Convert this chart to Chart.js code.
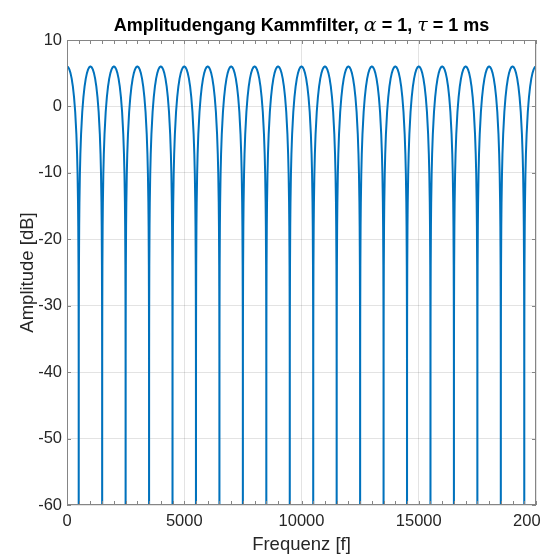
<!DOCTYPE html>
<html>
<head>
<meta charset="utf-8">
<script src="https://cdn.jsdelivr.net/npm/chart.js@4"></script>
<style>
  html, body { margin: 0; padding: 0; background: #fff; overflow: hidden; }
  #wrap { width: 544px; height: 556px; }
</style>
</head>
<body>
<div id="wrap"><canvas id="graphCanvas" width="544" height="556"></canvas></div>
<script>
// peaks of the comb filter response (Hz)
const peakFreqs = [0, 1000, 2000, 3000, 4000, 5000, 6000, 7000, 8000, 9000, 10000,
    11000, 12000, 13000, 14000, 15000, 16000, 17000, 18000, 19000, 20000];
// shape of one lobe around a peak
const lobeOffsetHz = [-500, -498, -495, -490, -480, -470, -450, -430, -400, -350, -300, -250, -200, -150, -100, -50,
    0, 50, 100, 150, 200, 250, 300, 350, 400, 430, 450, 470, 480, 490, 495, 498, 500];
const lobeDb = [-90, -38, -30.1, -24, -18, -14.5, -10.1, -7.2, -4.18, -0.84, 1.41, 3.01, 4.18, 5.02, 5.58, 5.91,
    6.02, 5.91, 5.58, 5.02, 4.18, 3.01, 1.41, -0.84, -4.18, -7.2, -10.1, -14.5, -18, -24, -30.1, -38, -90];
const xTicks = [0, 5000, 10000, 15000, 20000];
const yTicks = [10, 0, -10, -20, -30, -40, -50, -60];

const points = [];
peakFreqs.forEach(p => {
    lobeOffsetHz.forEach((o, i) => {
        const f = p + o;
        if (f < 0 || f > 20000) return;
        if (points.length && points[points.length - 1].x === f) return;
        points.push({ x: f, y: lobeDb[i] });
    });
});

const textColor = '#262626';
const boxColor = '#858585';
const gridColor = 'rgba(38,38,38,0.13)';
const sans = '"Liberation Sans", Arial, sans-serif';

const frame = {
    id: 'frame',
    afterDraw(chart) {
        const { ctx, chartArea: a, scales } = chart;
        ctx.save();
        // the figure is cut off on the right, through the last tick label
        ctx.fillStyle = '#fff';
        ctx.fillRect(541, a.bottom + 2, 10, 40);

        ctx.strokeStyle = boxColor;
        ctx.lineWidth = 1;
        ctx.strokeRect(a.left + 0.5, a.top + 0.5, a.right - a.left - 1, a.bottom - a.top - 1);
        // inner ticks
        ctx.beginPath();
        for (let f = 0; f <= 20000; f += 500) {
            const x = Math.round(scales.x.getPixelForValue(f)) + 0.5;
            ctx.moveTo(x, a.bottom); ctx.lineTo(x, a.bottom - 4);
            ctx.moveTo(x, a.top); ctx.lineTo(x, a.top + 4);
        }
        yTicks.forEach(v => {
            const y = Math.round(scales.y.getPixelForValue(v)) + 0.5;
            ctx.moveTo(a.left, y); ctx.lineTo(a.left + 4, y);
            ctx.moveTo(a.right, y); ctx.lineTo(a.right - 4, y);
        });
        ctx.stroke();

        // title with greek symbols
        const segs = [
            ['Amplitudengang Kammfilter, ', 'bold 18px ' + sans],
            ['\u03b1', 'italic 19px "DejaVu Serif", "Liberation Serif", serif'],
            [' = 1, ', 'bold 18px ' + sans],
            ['\u03c4', 'italic 19px "DejaVu Serif", "Liberation Serif", serif'],
            [' = 1 ms', 'bold 18px ' + sans]
        ];
        let total = 0;
        segs.forEach(s => { ctx.font = s[1]; total += ctx.measureText(s[0]).width; });
        let x = (a.left + a.right) / 2 - total / 2;
        ctx.fillStyle = '#000';
        ctx.textBaseline = 'alphabetic';
        segs.forEach(s => {
            ctx.font = s[1];
            ctx.fillText(s[0], x, 31);
            x += ctx.measureText(s[0]).width;
        });
        ctx.restore();
    }
};

new Chart(document.getElementById('graphCanvas').getContext('2d'), {
    type: 'line',
    data: {
        datasets: [{
            data: points,
            borderColor: '#0072BD',
            borderWidth: 2,
            borderJoinStyle: 'round',
            pointRadius: 0,
            tension: 0.0001,
            fill: false,
            clip: 0
        }]
    },
    options: {
        responsive: false,
        animation: false,
        layout: { padding: { top: 40, right: 8, left: 0, bottom: 0 } },
        plugins: { legend: { display: false }, tooltip: { enabled: false } },
        scales: {
            x: {
                type: 'linear',
                min: 0, max: 20000,
                afterFit(s) { s.height = 51; s.paddingLeft = 0; s.paddingRight = 0; },
                afterBuildTicks(s) { s.ticks = xTicks.map(v => ({ value: v })); },
                ticks: {
                    color: textColor, maxRotation: 0, autoSkip: false, padding: 7,
                    callback: v => String(v),
                    font: { size: 16.5, family: sans }
                },
                grid: { color: gridColor, drawTicks: false },
                border: { display: false },
                title: {
                    display: true, text: 'Frequenz [f]', color: textColor, padding: { top: 0, bottom: 0 },
                    font: { size: 18.5, family: sans }
                }
            },
            y: {
                min: -60, max: 10,
                afterFit(s) { s.width = 67; },
                afterBuildTicks(s) { s.ticks = yTicks.map(v => ({ value: v })); },
                ticks: {
                    color: textColor, padding: 5,
                    font: { size: 16.5, family: sans }
                },
                grid: { color: gridColor, drawTicks: false },
                border: { display: false },
                title: {
                    display: true, text: 'Amplitude [dB]', color: textColor, padding: { top: 17, bottom: 0 },
                    font: { size: 18.5, family: sans }
                }
            }
        }
    },
    plugins: [frame]
});
</script>
</body>
</html>
